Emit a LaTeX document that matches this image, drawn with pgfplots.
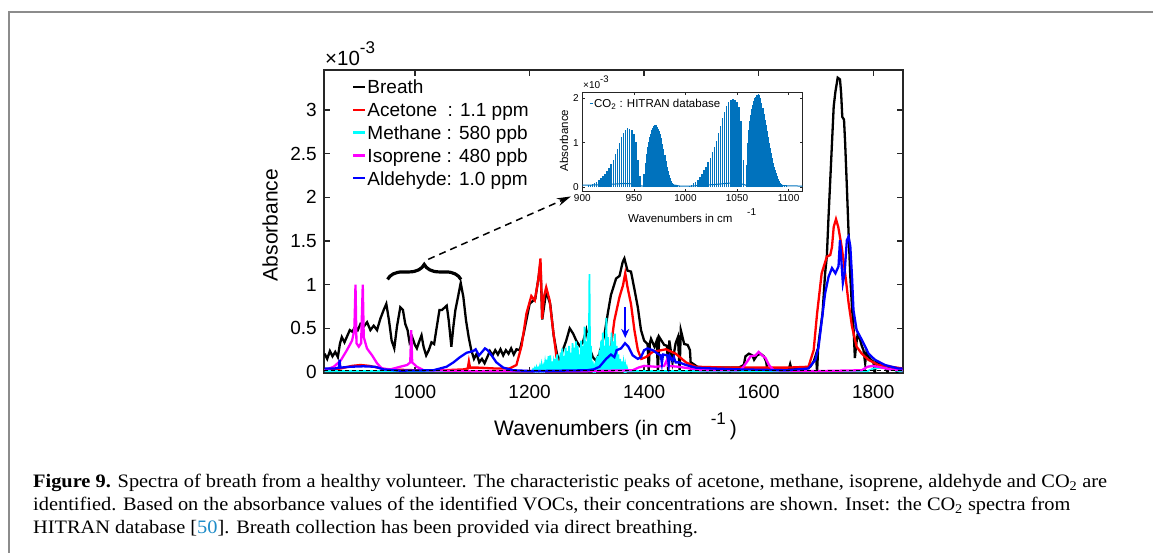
\documentclass[border=0pt]{standalone}
\usepackage{fontspec}
\setmainfont{Liberation Sans}
\newfontfamily\capfont{Liberation Serif}
\usepackage{graphicx}
\usepackage{pgfplots}
\pgfplotsset{compat=1.18}
\usetikzlibrary{arrows.meta,decorations.pathreplacing}
\definecolor{axgray}{RGB}{38,38,38}
\definecolor{framegray}{RGB}{140,140,140}
\definecolor{mblue}{RGB}{0,114,189}
\definecolor{linkblue}{RGB}{30,140,200}
\definecolor{cRed}{RGB}{255,0,0}
\definecolor{cCyan}{RGB}{0,255,255}
\definecolor{cMag}{RGB}{255,0,255}
\definecolor{cBlue}{RGB}{0,0,255}
\newcommand\fMain{\fontsize{19pt}{22pt}\selectfont}
\newcommand\fLab{\fontsize{21pt}{24pt}\selectfont}
\newcommand\fIn{\fontsize{10pt}{12pt}\selectfont}
\newcommand\fInLab{\fontsize{11.5pt}{13pt}\selectfont}
\newcommand\fCap{\capfont\fontsize{19pt}{23pt}\selectfont}
\newsavebox\capA
\newsavebox\capB
\newsavebox\capC
\newdimen\capw
\begin{document}%
\sbox\capA{\fCap\textbf{Figure 9.} Spectra of breath from a healthy volunteer. The characteristic peaks of acetone, methane, isoprene, aldehyde and CO\textsubscript{2} are}%
\sbox\capB{\fCap identified. Based on the absorbance values of the identified VOCs, their concentrations are shown. Inset: the CO\textsubscript{2} spectra from}%
\sbox\capC{\fCap HITRAN database [\textcolor{linkblue}{50}]. Breath collection has been provided via direct breathing.}%
\capw=\wd\capA
\pgfmathsetmacro\capx{1074/\capw}%
\begin{tikzpicture}
\path[use as bounding box] (0pt,0pt) rectangle (1153pt,553pt);
\draw[framegray, line width=2pt] (9pt,0pt) -- (9pt,541pt) -- (1153pt,541pt);

% ---------------- main axis ----------------
\begin{axis}[
 at={(324pt,180pt)}, anchor=south west,
 width=578.7pt, height=303pt, scale only axis,
 xmin=841, xmax=1851.5, ymin=-0.0115, ymax=3.458,
 axis line style={axgray, line width=1.6pt},
 every tick/.style={axgray, line width=1.3pt},
 tick align=inside, major tick length=6pt,
 xtick={1000,1200,1400,1600,1800}, xticklabels={1000,1200,1400,1600,1800},
 ytick={0,0.5,1,1.5,2,2.5,3}, yticklabels={0,0.5,1,1.5,2,2.5,3},
 ticklabel style={font=\fMain},
 xticklabel style={anchor=north, inner sep=0pt, yshift=-12pt},
 yticklabel style={anchor=east, inner sep=0pt, xshift=-7pt},
 legend cell align=left,
 legend style={draw=none, fill=none, at={(0.048,0.975)}, anchor=north west,
   inner sep=0pt, row sep=5pt, column sep=1.7pt, font=\fMain,
   nodes={inner sep=0pt, text height=15.8pt, text depth=2.1pt}},
 legend image code/.code={\draw[#1, line width=2.2pt] (0pt,0pt) -- (11.6pt,0pt);},
]
% Breath
\addplot[black, line width=2.3pt] coordinates {
(842,0.21)(846.6,0.15)(851.3,0.24)(855.9,0.18)(860.6,0.23)(865.2,0.17)(868.7,0.32)(872.1,0.40)(876.8,0.34)(881.4,0.41)(886.1,0.48)(890.7,0.46)(895.3,0.52)(900,0.48)(904.6,0.55)(910.4,0.52)(916.2,0.57)(922,0.48)(927.8,0.53)(933.6,0.48)(939.4,0.61)(945.2,0.71)(949.8,0.78)(954.5,0.59)(959.1,0.36)(963.7,0.27)(968.4,0.52)(974.2,0.74)(978.8,0.71)(982.9,0.55)(986.9,0.48)(990.4,0.34)(995,0.40)(999.7,0.31)(1003.2,0.27)(1007.8,0.36)(1011.3,0.42)(1014.8,0.29)(1019.4,0.19)(1024,0.25)(1028.7,0.34)(1033.3,0.32)(1038,0.52)(1042.6,0.71)(1047.2,0.71)(1051.9,0.74)(1055.3,0.76)(1058.8,0.59)(1063.4,0.29)(1066.9,0.52)(1070.4,0.71)(1075,0.86)(1079.7,1.02)(1084.3,0.86)(1089,0.59)(1093.6,0.40)(1098.2,0.25)(1102.9,0.15)(1107.5,0.21)(1112.1,0.11)(1116.8,0.15)(1121.4,0.10)(1126.1,0.17)(1130.7,0.24)(1135.3,0.19)(1140,0.25)(1144.6,0.20)(1149.2,0.26)(1153.9,0.19)(1158.5,0.25)(1163.2,0.21)(1167.8,0.27)(1172.4,0.20)(1177.1,0.26)(1182.9,0.25)(1190,0.45)(1200,0.78)(1210,0.84)(1216,1.1)(1219,1.25)(1222,0.6)(1229,0.92)(1236,0.78)(1242,0.42)(1248,0.2)(1252,0.12)(1258,0.25)(1264,0.36)(1270,0.50)(1276,0.44)(1281.4,0.36)(1287,0.30)(1293,0.34)(1299,0.48)(1305,0.27)(1310.4,0.17)(1316,0.13)(1322,0.21)(1331,0.44)(1336.5,0.67)(1342,0.88)(1351,1.07)(1357,1.10)(1362.6,1.26)(1365.5,1.30)(1371,1.16)(1377,1.15)(1383,0.95)(1389,0.74)(1394.5,0.48)(1400,0.36)(1406,0.32)(1408,0.02)(1410,0.33)(1412,0.38)(1418,0.29)(1422,0.36)(1424,0.01)(1426.4,0.40)(1435,0.31)(1440,0.30)(1442,0.02)(1444,0.36)(1449.5,0.11)(1455,0.33)(1459,0.40)(1462,0.02)(1464,0.48)(1470,0.32)(1476,0.31)(1480,0.25)(1482,0.02)(1484,0.10)(1493,0.06)(1500,0.05)(1508,0.04)(1510,0.0)(1512,0.05)(1528,0.05)(1530,0.0)(1532,0.05)(1548,0.05)(1550,0.0)(1552,0.05)(1565,0.05)(1574,0.08)(1577,0.18)(1583,0.21)(1589,0.19)(1592,0.14)(1597,0.19)(1603,0.21)(1609,0.18)(1613,0.12)(1615,0.03)(1625,0.04)(1653,0.04)(1655,0.09)(1657,0.04)(1680,0.04)(1690,0.06)(1696,0.12)(1700,0.2)(1702,0.0)(1704,0.3)(1708,0.5)(1711.5,0.67)(1716,1.13)(1719,1.32)(1722,1.78)(1725,2.2)(1728,2.62)(1731,3.04)(1734,3.21)(1738,3.37)(1742,3.35)(1744,3.19)(1746,2.92)(1749,2.89)(1751,2.62)(1754,2.12)(1757,1.59)(1760,1.09)(1763,0.73)(1765.5,0.52)(1768,0.16)(1770,0.3)(1773,0.44)(1777,0.37)(1780,0.3)(1783,0.25)(1786,0.1)(1788,0.22)(1791,0.18)(1796,0.14)(1800,0.12)(1803,0.0)(1805,0.12)(1812,0.09)(1820,0.06)(1825,0.0)(1827,0.06)(1838,0.04)(1842,0.0)(1844,0.04)(1852,0.03)};
\addlegendentry{Breath}
% Acetone
\addplot[cRed, line width=2.3pt] coordinates {
(842,0.02)(870,0.04)(890,0.07)(905,0.08)(920,0.07)(935,0.05)(950,0.03)(1000,0.02)(1050,0.02)(1085,0.03)(1092,0.04)(1094,0.12)(1096,0.05)(1110,0.05)(1140,0.04)(1165,0.04)(1177,0.08)(1186,0.3)(1194.5,0.67)(1203,0.87)(1209,0.82)(1215,1.05)(1219,1.3)(1222,0.61)(1225,0.86)(1229,0.97)(1235,0.82)(1241,0.48)(1247,0.17)(1255,0.06)(1265,0.03)(1300,0.02)(1325,0.04)(1334,0.08)(1342,0.29)(1348,0.59)(1357,0.86)(1363,0.99)(1367,1.13)(1371,0.97)(1377,0.78)(1383,0.48)(1389,0.25)(1395,0.15)(1403,0.17)(1415,0.23)(1438,0.26)(1455,0.21)(1473,0.11)(1490,0.06)(1550,0.05)(1650,0.05)(1687,0.06)(1696,0.25)(1702,0.67)(1710,1.13)(1719,1.32)(1725,1.34)(1728,1.43)(1731,1.66)(1735,1.75)(1739,1.66)(1745,1.43)(1751,1.13)(1757,0.79)(1763,0.52)(1771,0.29)(1780,0.21)(1791.5,0.14)(1809,0.08)(1852,0.04)};
\addlegendentry{Acetone\ \ : 1.1 ppm}
% Methane
\addplot[cCyan, line width=1.8pt] coordinates {
(842,0.01)(1204.5,0.01)
(1206,0.03)(1207.5,0.01)(1209,0.04)(1210.5,0.01)(1212,0.05)(1213.5,0.01)(1215,0.04)(1216.5,0.01)(1218,0.06)(1219.5,0.01)(1221,0.08)(1222.5,0.01)(1224,0.06)(1225.5,0.01)(1227,0.1)(1228.5,0.01)(1230,0.14)(1231.5,0.01)(1233,0.18)(1234.5,0.01)(1236,0.19)(1237.5,0.01)(1239,0.12)(1240.5,0.01)(1242,0.1)(1243.5,0.01)(1245,0.15)(1246.5,0.01)(1248,0.2)(1249.5,0.01)(1251,0.13)(1252.5,0.01)(1254,0.22)(1255.5,0.01)(1257,0.27)(1258.5,0.01)(1260,0.18)(1261.5,0.01)(1263,0.28)(1264.5,0.01)(1266,0.24)(1267.5,0.01)(1269,0.3)(1270.5,0.01)(1272,0.22)(1273.5,0.01)(1275,0.33)(1276.5,0.01)(1278,0.28)(1279.5,0.01)(1281,0.35)(1282.5,0.01)(1284,0.3)(1285.5,0.01)(1287,0.2)(1288.5,0.01)(1290,0.36)(1291.5,0.01)(1293,0.3)(1294.5,0.01)(1296,0.52)(1297.5,0.01)(1299,0.35)(1300.5,0.01)(1302,0.45)(1303.2,0.01)(1304.5,1.12)(1305.8,0.01)(1307,0.3)(1308.5,0.01)(1310,0.12)(1311.5,0.01)(1313,0.06)(1314.5,0.01)(1316,0.1)(1317.5,0.01)(1319,0.18)(1320.5,0.01)(1322,0.25)(1323.5,0.01)(1325,0.36)(1326.5,0.01)(1328,0.45)(1329.5,0.01)(1331,0.3)(1332.5,0.01)(1334,0.62)(1335.5,0.01)(1337,0.4)(1338.5,0.01)(1340,0.3)(1341.5,0.01)(1343,0.45)(1344.5,0.01)(1346,0.35)(1347.5,0.01)(1349,0.44)(1350.5,0.01)(1352,0.3)(1353.5,0.01)(1355,0.2)(1356.5,0.01)(1358,0.15)(1359.5,0.01)(1361,0.12)(1362.5,0.01)(1364,0.1)(1365.5,0.01)(1367,0.08)(1368.5,0.01)(1370,0.05)(1371.5,0.01)
(1790,0.01)(1800,0.04)(1815,0.05)(1830,0.03)(1845,0.01)(1852,0.01)};
\addlegendentry{Methane : 580 ppb}
% Isoprene
\addplot[cMag, line width=2.3pt] coordinates {
(842,0.02)(858,0.06)(870,0.13)(881,0.25)(890,0.36)(894,0.48)(896,1.0)(897.7,0.33)(901.7,0.29)(905.8,0.33)(908.7,1.0)(910.4,0.4)(916,0.27)(925,0.19)(933.6,0.1)(942,0.04)(957,0.03)(974,0.06)(986,0.08)(991.6,0.11)(993.3,0.48)(995,0.11)(1003,0.06)(1015,0.02)(1100,0.01)(1300,0.01)(1380,0.02)(1390,0.05)(1400,0.07)(1420,0.06)(1435,0.07)(1440,0.14)(1442,0.07)(1460,0.06)(1480,0.04)(1500,0.02)(1565,0.02)(1571,0.04)(1580,0.12)(1586,0.18)(1594.5,0.19)(1600,0.23)(1606,0.19)(1612,0.16)(1618,0.08)(1626,0.02)(1700,0.01)(1780,0.02)(1790,0.06)(1800,0.07)(1815,0.05)(1830,0.03)(1852,0.02)};
\addlegendentry{Isoprene : 480 ppb}
% Aldehyde
\addplot[cBlue, line width=2.3pt] coordinates {
(842,0.04)(860,0.04)(867,0.05)(868.2,0.14)(869.5,0.05)(887,0.06)(910,0.065)(930,0.06)(945,0.03)(974,0.015)(1032,0.02)(1055,0.06)(1067,0.11)(1078.5,0.17)(1090,0.22)(1101.7,0.24)(1105.8,0.26)(1111.6,0.19)(1117,0.23)(1122,0.27)(1126.6,0.25)(1133.6,0.19)(1142,0.11)(1154,0.05)(1171,0.02)(1206,0.01)(1300,0.02)(1312,0.03)(1322,0.06)(1333.6,0.15)(1342,0.2)(1348,0.17)(1352,0.25)(1359.7,0.27)(1366.6,0.33)(1372.4,0.29)(1380,0.19)(1389,0.15)(1394.5,0.17)(1400,0.25)(1406,0.27)(1415,0.25)(1423.4,0.21)(1429,0.19)(1431,0.1)(1433,0.2)(1441,0.19)(1443,0.08)(1445,0.18)(1449.5,0.13)(1452,0.17)(1455,0.11)(1461,0.11)(1473,0.08)(1490,0.05)(1519,0.04)(1565,0.03)(1650,0.02)(1687,0.04)(1699,0.14)(1704.6,0.29)(1710.4,0.60)(1716,0.90)(1722,1.09)(1728,1.19)(1734,1.13)(1739.4,1.21)(1742,1.51)(1745,1.21)(1747,1.02)(1750,1.13)(1754,1.51)(1757,1.55)(1760,1.44)(1763,1.09)(1765.5,0.71)(1771,0.48)(1780,0.37)(1786,0.29)(1792,0.21)(1803,0.14)(1820.5,0.08)(1844,0.04)(1852,0.04)};
\addlegendentry{Aldehyde: 1.0 ppm}
\addplot[black, dash pattern=on 4pt off 3pt, line width=1pt, forget plot] coordinates {(841,0.015)(1852,0.015)};
% annotations
\draw[decorate, decoration={brace, amplitude=15pt}, line width=3.2pt] (axis cs:952,1.06) -- (axis cs:1080,1.06);
\draw[dash pattern=on 7pt off 5pt, line width=1.5pt, -{Stealth[length=14pt,width=8pt]}] (axis cs:1023,1.29) -- (axis cs:1272,2.01);
\draw[cBlue, line width=2.3pt, -{Stealth[length=9pt,width=8pt]}] (axis cs:1367,0.74) -- (axis cs:1367,0.39);
\end{axis}

% ---------------- inset ----------------
\begin{axis}[
 at={(582.3pt,361.3pt)}, anchor=south west,
 width=220.2pt, height=99.4pt, scale only axis,
 xmin=900, xmax=1113.5, ymin=-0.106, ymax=2.14,
 axis background/.style={fill=white},
 axis line style={axgray, line width=0.8pt},
 every tick/.style={axgray, line width=0.6pt},
 tick align=inside, major tick length=3pt,
 xtick={900,950,1000,1050,1100}, xticklabels={900,950,1000,1050,1100},
 ytick={0,1,2}, yticklabels={0,1,2},
 ticklabel style={font=\fIn},
 xticklabel style={anchor=north, inner sep=0pt, yshift=-2.5pt},
 yticklabel style={anchor=east, inner sep=0pt, xshift=-3.5pt},
 legend cell align=left,
 legend style={draw=none, fill=none, at={(0.03,0.945)}, anchor=north west,
   inner sep=0pt, column sep=0.5pt, font=\fInLab,
   nodes={inner sep=0pt, text height=9.6pt, text depth=1.4pt}},
 legend image code/.code={\draw[#1, line width=1pt] (0pt,0pt) -- (3.5pt,0pt);},
]
\addplot[mblue, line width=1pt] coordinates {
(900,0.04)(920,0.05)(940,0.08)(950,0.07)(958,0.02)(962,0.04)(972,0.12)(985,0.06)(995,0.02)(1005,0.02)(1030,0.06)(1048,0.1)(1056,0.06)(1060,0.03)(1066,0.08)(1075,0.14)(1085,0.1)(1095,0.03)(1113.5,0.02)};
\addlegendentry{CO\textsubscript{2} : HITRAN database}
\addplot[mblue, ycomb, line width=1.4pt, forget plot] coordinates {
(906,0.04)(908,0.05)(910,0.07)(912,0.09)(914,0.11)(916,0.15)(918,0.2)(920,0.25)(922,0.3)(924,0.36)(926,0.42)(928,0.52)(930,0.62)(932,0.74)(934,0.86)(936,1.0)(938,1.12)(940,1.22)(942,1.29)(944,1.33)(946,1.32)(948,1.28)(950,1.2)(952,1.02)(954,0.6)(956,0.25)
(960,0.3)(961,0.55)(962,0.75)(963,0.9)(964,1.02)(965,1.12)(966,1.2)(967,1.28)(968,1.33)(969,1.37)(970,1.39)(971,1.40)(972,1.39)(973,1.36)(974,1.32)(975,1.27)(976,1.2)(977,1.1)(978,0.98)(979,0.86)(980,0.72)(981,0.58)(982,0.46)(983,0.36)(984,0.27)(985,0.2)(986,0.14)(987,0.1)(988,0.07)(989,0.05)(990,0.04)(992,0.03)(994,0.02)
(1004,0.03)(1006,0.05)(1008,0.08)(1010,0.11)(1012,0.16)(1014,0.22)(1016,0.3)(1018,0.38)(1020,0.46)(1022,0.56)(1024,0.66)(1026,0.78)(1028,0.9)(1030,1.05)(1032,1.22)(1034,1.38)(1036,1.55)(1038,1.7)(1040,1.83)(1042,1.92)(1044,1.97)(1046,1.98)(1048,1.96)(1050,1.92)(1052,1.8)(1054,1.5)(1056,0.6)
(1059,0.5)(1060,1.0)(1061,1.29)(1062,1.48)(1063,1.62)(1064,1.76)(1065,1.86)(1066,1.94)(1067,2.0)(1068,2.04)(1069,2.07)(1070,2.09)(1071,2.1)(1072,2.07)(1073,2.0)(1074,1.9)(1075,1.78)(1076,1.65)(1077,1.52)(1078,1.4)(1079,1.27)(1080,1.14)(1081,1.0)(1082,0.88)(1083,0.76)(1084,0.65)(1085,0.55)(1086,0.46)(1087,0.38)(1088,0.31)(1089,0.25)(1090,0.19)(1091,0.14)(1092,0.1)(1093,0.07)(1094,0.05)(1096,0.03)(1098,0.02)};
\end{axis}

% ---------------- labels ----------------
\node[anchor=base west, inner sep=0pt, font=\fontsize{20.5pt}{22pt}\selectfont] at (325pt,487.5pt) {×10\raisebox{12pt}{\fontsize{17pt}{17pt}\selectfont -3}};
\node[rotate=90, inner sep=0pt, font=\fLab] at (270pt,328pt) {Absorbance};
\node[anchor=base west, inner sep=0pt, font=\fLab] at (494pt,117pt) {Wavenumbers (in cm\hspace{19pt}\raisebox{11pt}{\fontsize{17pt}{17pt}\selectfont -1}\hspace{4pt})};

\node[anchor=base west, inner sep=0pt, font=\fIn] at (583pt,464.7pt) {×10\raisebox{5.5pt}{\fontsize{9.5pt}{10pt}\selectfont -3}};
\node[rotate=90, inner sep=0pt, font=\fInLab] at (564pt,412.5pt) {Absorbance};
\node[anchor=base west, inner sep=0pt, font=\fInLab] at (628pt,330pt) {Wavenumbers in cm};
\node[anchor=base west, inner sep=0pt, font=\fIn] at (747pt,337pt) {-1};

% ---------------- caption ----------------
\node[anchor=base west, inner sep=0pt] at (33pt,65pt) {\scalebox{\capx}[1]{\usebox\capA}};
\node[anchor=base west, inner sep=0pt] at (33pt,42pt) {\scalebox{\capx}[1]{\usebox\capB}};
\node[anchor=base west, inner sep=0pt] at (33pt,19pt) {\scalebox{\capx}[1]{\usebox\capC}};
\end{tikzpicture}%
\end{document}
